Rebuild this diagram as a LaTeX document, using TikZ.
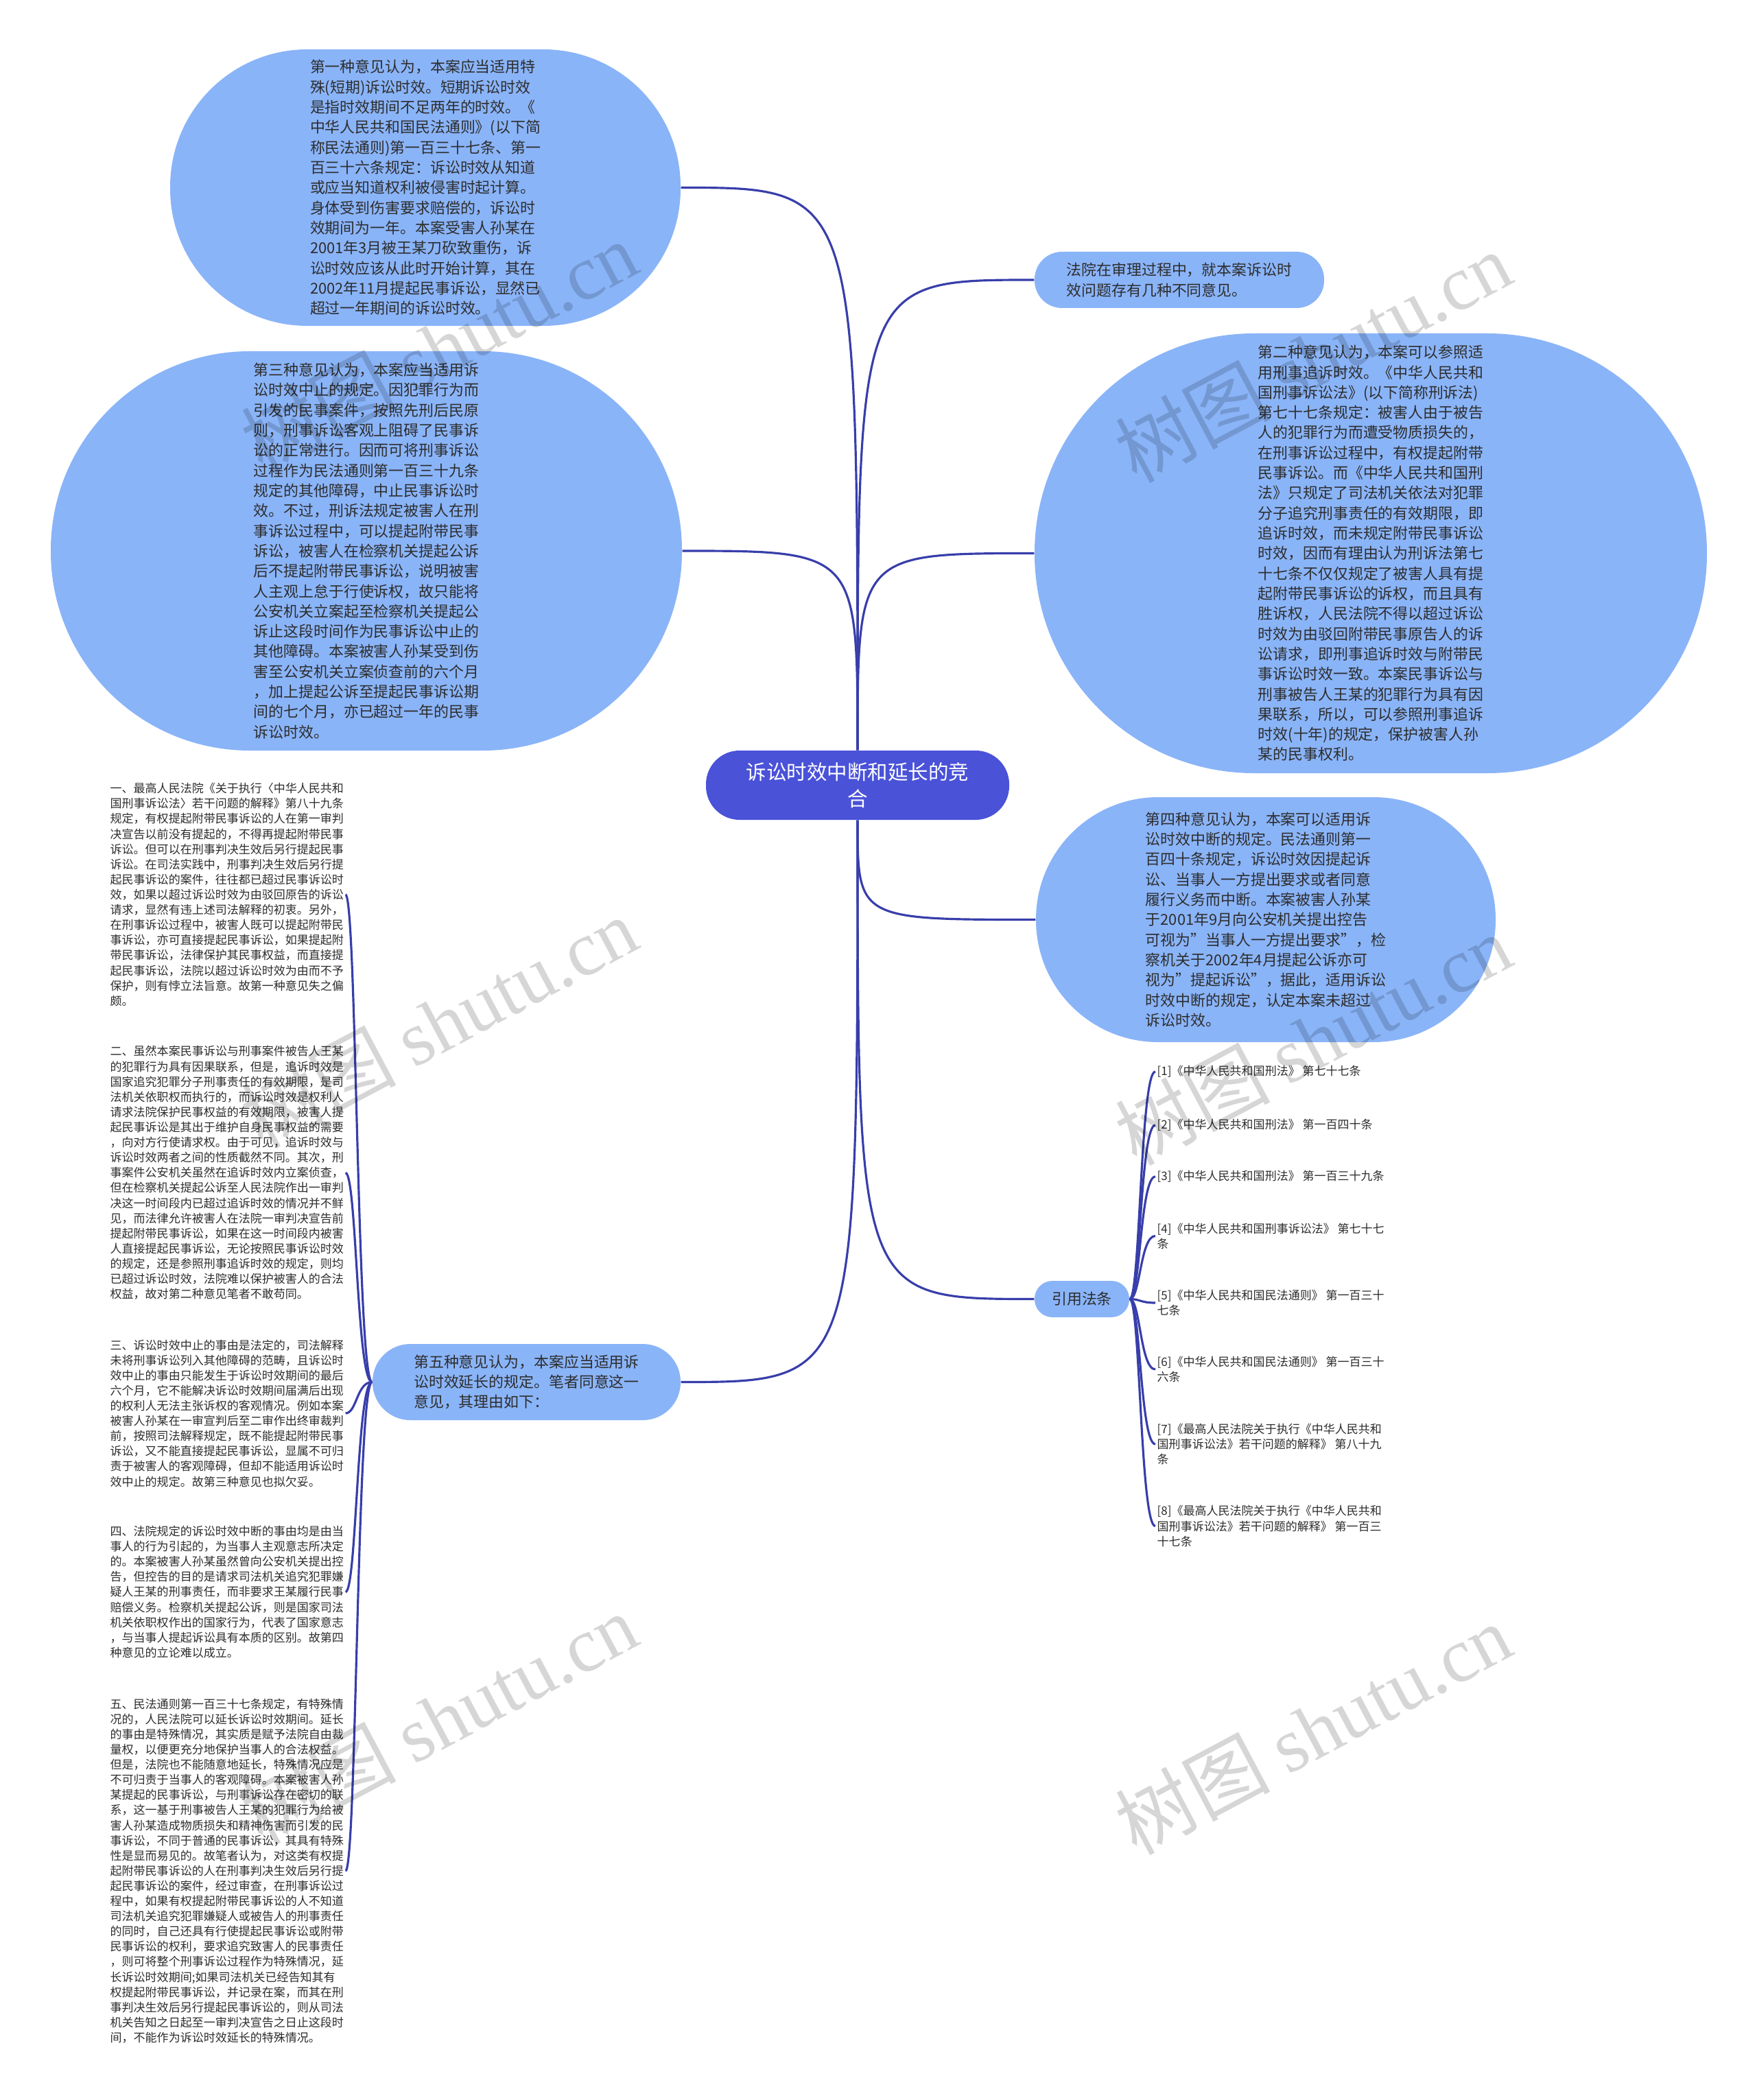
\documentclass[tikz,border=0pt]{standalone}
\usepackage{fontspec}
\setmainfont{Noto Sans CJK SC}
\newfontfamily\wmlatin{Liberation Serif}
\definecolor{bubblefill}{RGB}{138,180,248}
\definecolor{rootfill}{RGB}{74,82,216}
\definecolor{linkblue}{RGB}{56,62,170}
\definecolor{txtgray}{RGB}{45,45,45}
\newcommand\opfont{\fontsize{6.23pt}{8.34pt}\selectfont}
\newcommand\notefont{\fontsize{4.84pt}{6.29pt}\selectfont}
\newcommand\rootfont{\fontsize{8.4pt}{11.1pt}\selectfont}
\begin{document}
\begin{tikzpicture}[x=1cm,y=-1cm,
	bubble/.style={fill=bubblefill, inner sep=0pt, align=left, font=\opfont, text=txtgray},
	note/.style={anchor=west, inner sep=0.02cm, align=left, font=\notefont, text=txtgray},
	link/.style={draw=linkblue, line width=0.9pt},
	wm/.style={rotate=28, text=black, opacity=0.16, font=\fontsize{32pt}{32pt}\selectfont}]
	\path[fill=white] (0,0) rectangle (25.6,30.61);
	\useasboundingbox (0,0) rectangle (25.6,30.61);

	\node[bubble, fill=rootfill, text=white, align=center, font=\rootfont, minimum width=4.42cm, minimum height=1.01cm, rounded corners=0.49cm] (root) at (12.50,11.445) {诉讼时效中断和延长的竞\\合};

	\node[bubble, minimum width=7.44cm, minimum height=4.03cm, rounded corners=2cm] (op1) at (6.20,2.735) {第一种意见认为，本案应当适用特\\殊(短期)诉讼时效。短期诉讼时效\\是指时效期间不足两年的时效。《\\中华人民共和国民法通则》(以下简\\称民法通则)第一百三十七条、第一\\百三十六条规定：诉讼时效从知道\\或应当知道权利被侵害时起计算。\\身体受到伤害要求赔偿的，诉讼时\\效期间为一年。本案受害人孙某在\\2001年3月被王某刀砍致重伤，诉\\讼时效应该从此时开始计算，其在\\2002年11月提起民事诉讼，显然已\\超过一年期间的诉讼时效。};

	\node[bubble, minimum width=9.20cm, minimum height=5.82cm, rounded corners=2.9cm] (op3) at (5.34,8.03) {第三种意见认为，本案应当适用诉\\讼时效中止的规定。因犯罪行为而\\引发的民事案件，按照先刑后民原\\则，刑事诉讼客观上阻碍了民事诉\\讼的正常进行。因而可将刑事诉讼\\过程作为民法通则第一百三十九条\\规定的其他障碍，中止民事诉讼时\\效。不过，刑诉法规定被害人在刑\\事诉讼过程中，可以提起附带民事\\诉讼，被害人在检察机关提起公诉\\后不提起附带民事诉讼，说明被害\\人主观上怠于行使诉权，故只能将\\公安机关立案起至检察机关提起公\\诉止这段时间作为民事诉讼中止的\\其他障碍。本案被害人孙某受到伤\\害至公安机关立案侦查前的六个月\\，加上提起公诉至提起民事诉讼期\\间的七个月，亦已超过一年的民事\\诉讼时效。};

	\node[bubble, minimum width=4.22cm, minimum height=0.82cm, rounded corners=0.4cm] (court) at (17.19,4.08) {法院在审理过程中，就本案诉讼时\\效问题存有几种不同意见。};

	\node[bubble, minimum width=9.80cm, minimum height=6.41cm, rounded corners=3.2cm] (op2) at (19.98,8.065) {第二种意见认为，本案可以参照适\\用刑事追诉时效。《中华人民共和\\国刑事诉讼法》(以下简称刑诉法)\\第七十七条规定：被害人由于被告\\人的犯罪行为而遭受物质损失的，\\在刑事诉讼过程中，有权提起附带\\民事诉讼。而《中华人民共和国刑\\法》只规定了司法机关依法对犯罪\\分子追究刑事责任的有效期限，即\\追诉时效，而未规定附带民事诉讼\\时效，因而有理由认为刑诉法第七\\十七条不仅仅规定了被害人具有提\\起附带民事诉讼的诉权，而且具有\\胜诉权，人民法院不得以超过诉讼\\时效为由驳回附带民事原告人的诉\\讼请求，即刑事追诉时效与附带民\\事诉讼时效一致。本案民事诉讼与\\刑事被告人王某的犯罪行为具有因\\果联系，所以，可以参照刑事追诉\\时效(十年)的规定，保护被害人孙\\某的民事权利。};

	\node[bubble, minimum width=6.70cm, minimum height=3.57cm, rounded corners=1.78cm] (op4) at (18.45,13.405) {第四种意见认为，本案可以适用诉\\讼时效中断的规定。民法通则第一\\百四十条规定，诉讼时效因提起诉\\讼、当事人一方提出要求或者同意\\履行义务而中断。本案被害人孙某\\于2001年9月向公安机关提出控告\\可视为"当事人一方提出要求"，检\\察机关于2002年4月提起公诉亦可\\视为"提起诉讼"，据此，适用诉讼\\时效中断的规定，认定本案未超过\\诉讼时效。};

	\node[bubble, minimum width=1.38cm, minimum height=0.53cm, rounded corners=0.26cm] (cite) at (15.77,18.935) {引用法条};

	\node[bubble, minimum width=4.49cm, minimum height=1.11cm, rounded corners=0.55cm] (op5) at (7.675,20.145) {第五种意见认为，本案应当适用诉\\讼时效延长的规定。笔者同意这一\\意见，其理由如下：};

	\node[note] (note1) at (1.58,13.04) {一、最高人民法院《关于执行〈中华人民共和\\国刑事诉讼法〉若干问题的解释》第八十九条\\规定，有权提起附带民事诉讼的人在第一审判\\决宣告以前没有提起的，不得再提起附带民事\\诉讼。但可以在刑事判决生效后另行提起民事\\诉讼。在司法实践中，刑事判决生效后另行提\\起民事诉讼的案件，往往都已超过民事诉讼时\\效，如果以超过诉讼时效为由驳回原告的诉讼\\请求，显然有违上述司法解释的初衷。另外，\\在刑事诉讼过程中，被害人既可以提起附带民\\事诉讼，亦可直接提起民事诉讼，如果提起附\\带民事诉讼，法律保护其民事权益，而直接提\\起民事诉讼，法院以超过诉讼时效为由而不予\\保护，则有悖立法旨意。故第一种意见失之偏\\颇。};

	\node[note] (note2) at (1.58,17.095) {二、虽然本案民事诉讼与刑事案件被告人王某\\的犯罪行为具有因果联系，但是，追诉时效是\\国家追究犯罪分子刑事责任的有效期限，是司\\法机关依职权而执行的，而诉讼时效是权利人\\请求法院保护民事权益的有效期限，被害人提\\起民事诉讼是其出于维护自身民事权益的需要\\，向对方行使请求权。由于可见，追诉时效与\\诉讼时效两者之间的性质截然不同。其次，刑\\事案件公安机关虽然在追诉时效内立案侦查，\\但在检察机关提起公诉至人民法院作出一审判\\决这一时间段内已超过追诉时效的情况并不鲜\\见，而法律允许被害人在法院一审判决宣告前\\提起附带民事诉讼，如果在这一时间段内被害\\人直接提起民事诉讼，无论按照民事诉讼时效\\的规定，还是参照刑事追诉时效的规定，则均\\已超过诉讼时效，法院难以保护被害人的合法\\权益，故对第二种意见笔者不敢苟同。};

	\node[note] (note3) at (1.58,20.60) {三、诉讼时效中止的事由是法定的，司法解释\\未将刑事诉讼列入其他障碍的范畴，且诉讼时\\效中止的事由只能发生于诉讼时效期间的最后\\六个月，它不能解决诉讼时效期间届满后出现\\的权利人无法主张诉权的客观情况。例如本案\\被害人孙某在一审宣判后至二审作出终审裁判\\前，按照司法解释规定，既不能提起附带民事\\诉讼，又不能直接提起民事诉讼，显属不可归\\责于被害人的客观障碍，但却不能适用诉讼时\\效中止的规定。故第三种意见也拟欠妥。};

	\node[note] (note4) at (1.58,23.205) {四、法院规定的诉讼时效中断的事由均是由当\\事人的行为引起的，为当事人主观意志所决定\\的。本案被害人孙某虽然曾向公安机关提出控\\告，但控告的目的是请求司法机关追究犯罪嫌\\疑人王某的刑事责任，而非要求王某履行民事\\赔偿义务。检察机关提起公诉，则是国家司法\\机关依职权作出的国家行为，代表了国家意志\\，与当事人提起诉讼具有本质的区别。故第四\\种意见的立论难以成立。};

	\node[note] (note5) at (1.58,27.27) {五、民法通则第一百三十七条规定，有特殊情\\况的，人民法院可以延长诉讼时效期间。延长\\的事由是特殊情况，其实质是赋予法院自由裁\\量权，以便更充分地保护当事人的合法权益。\\但是，法院也不能随意地延长，特殊情况应是\\不可归责于当事人的客观障碍。本案被害人孙\\某提起的民事诉讼，与刑事诉讼存在密切的联\\系，这一基于刑事被告人王某的犯罪行为给被\\害人孙某造成物质损失和精神伤害而引发的民\\事诉讼，不同于普通的民事诉讼，其具有特殊\\性是显而易见的。故笔者认为，对这类有权提\\起附带民事诉讼的人在刑事判决生效后另行提\\起民事诉讼的案件，经过审查，在刑事诉讼过\\程中，如果有权提起附带民事诉讼的人不知道\\司法机关追究犯罪嫌疑人或被告人的刑事责任\\的同时，自己还具有行使提起民事诉讼或附带\\民事诉讼的权利，要求追究致害人的民事责任\\，则可将整个刑事诉讼过程作为特殊情况，延\\长诉讼时效期间;如果司法机关已经告知其有\\权提起附带民事诉讼，并记录在案，而其在刑\\事判决生效后另行提起民事诉讼的，则从司法\\机关告知之日起至一审判决宣告之日止这段时\\间，不能作为诉讼时效延长的特殊情况。};

	\node[note] (ref1) at (16.84,15.62) {[1]《中华人民共和国刑法》 第七十七条};
	\node[note] (ref2) at (16.84,16.40) {[2]《中华人民共和国刑法》 第一百四十条};
	\node[note] (ref3) at (16.84,17.15) {[3]《中华人民共和国刑法》 第一百三十九条};
	\node[note] (ref4) at (16.84,18.015) {[4]《中华人民共和国刑事诉讼法》 第七十七\\条};
	\node[note] (ref5) at (16.84,18.99) {[5]《中华人民共和国民法通则》 第一百三十\\七条};
	\node[note] (ref6) at (16.84,19.96) {[6]《中华人民共和国民法通则》 第一百三十\\六条};
	\node[note] (ref7) at (16.84,21.05) {[7]《最高人民法院关于执行《中华人民共和\\国刑事诉讼法》若干问题的解释》 第八十九\\条};
	\node[note] (ref8) at (16.84,22.245) {[8]《最高人民法院关于执行《中华人民共和\\国刑事诉讼法》若干问题的解释》 第一百三\\十七条};

	\draw[link] (root.north) .. controls (root.north |- op1.east) .. (op1.east);
	\draw[link] (root.north) .. controls (root.north |- op3.east) .. (op3.east);
	\draw[link] (root.north) .. controls (root.north |- court.west) .. (court.west);
	\draw[link] (root.north) .. controls (root.north |- op2.west) .. (op2.west);
	\draw[link] (root.south) .. controls (root.south |- op4.west) .. (op4.west);
	\draw[link] (root.south) .. controls (root.south |- cite.west) .. (cite.west);
	\draw[link] (root.south) .. controls (root.south |- op5.east) .. (op5.east);

	\foreach \n in {note1,note2,note3,note4,note5}
		\draw[link] (op5.west) .. controls (5.2,20.145) and (5.2,0 |- \n.east) .. (\n.east);

	\foreach \n in {ref1,ref2,ref3,ref4,ref5,ref6,ref7,ref8}
		\draw[link] (cite.east) .. controls (16.62,18.935) and (16.62,0 |- \n.west) .. (\n.west);

	\node[wm] (wm1) at (6.40,5.05) {树图 {\wmlatin shutu.cn}};
	\node[wm] (wm2) at (19.14,5.20) {树图 {\wmlatin shutu.cn}};
	\node[wm] (wm3) at (6.40,14.90) {树图 {\wmlatin shutu.cn}};
	\node[wm] (wm4) at (19.14,15.15) {树图 {\wmlatin shutu.cn}};
	\node[wm] (wm5) at (6.40,25.05) {树图 {\wmlatin shutu.cn}};
	\node[wm] (wm6) at (19.14,25.20) {树图 {\wmlatin shutu.cn}};
\end{tikzpicture}
\end{document}
